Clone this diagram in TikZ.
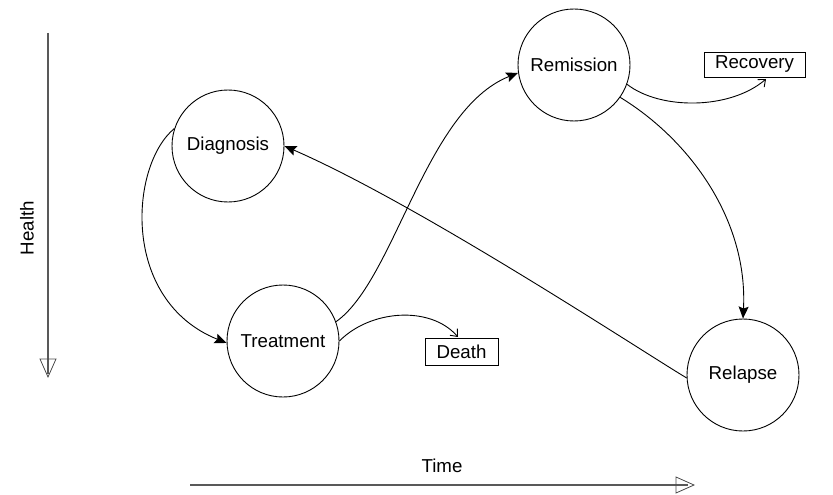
\documentclass[tikz,border=0pt]{standalone}
\usepackage{fontspec}
\setmainfont{Liberation Sans}
\usetikzlibrary{arrows.meta}
\begin{document}
\begin{tikzpicture}[x=1pt,y=-1pt,
  lbl/.style={font=\fontsize{18.7}{22}\selectfont},
  state/.style={circle,draw,line width=0.9pt,minimum size=112pt,inner sep=0pt,lbl},
  outbox/.style={draw,line width=0.9pt,inner sep=0pt,lbl},
  link/.style={line width=0.9pt,-{Stealth[length=12pt,width=10pt,inset=2pt]}},
  soft/.style={line width=0.9pt,-{Straight Barb[length=6pt,width=10pt]}},
  axisline/.style={line width=1.6pt,draw=black!65},
  axishead/.style={line width=0.8pt,draw=black!70}]
\useasboundingbox (0,0) rectangle (833,495);

\node[state] (diag) at (228,146) {Diagnosis};
\node[state] (treat) at (283,341) {Treatment};
\node[state] (remi) at (574,65) {Remission};
\node[state] (rel) at (743,375) {Relapse};
\node[outbox,minimum width=101pt,minimum height=25pt] (rec) at (754.5,64.5) {Recovery};
\node[outbox,minimum width=73pt,minimum height=27pt] (death) at (461.5,351.5) {Death};

\node[lbl,rotate=90] (health) at (27,228) {Health};
\node[lbl] (time) at (442,466) {Time};

% axes
\coordinate (vtop) at (48,33);
\coordinate (vend) at (48,374);
\draw[axisline] (vtop) -- (vend);
\draw[axishead] (40,359) -- (56,359) -- (48,377) -- cycle;
\coordinate (hstart) at (190,485);
\coordinate (hend) at (688,485);
\draw[axisline] (hstart) -- (hend);
\draw[axishead] (676,477) -- (676,493) -- (694,485) -- cycle;

% connectors
\draw[link] (diag.162) .. controls (130,165) and (120,300) .. (treat.182);
\draw[link] (treat.20) .. controls (395,280) and (425,110) .. (remi.188);
\draw[link] (remi.-35) .. controls (690,140) and (748,220) .. (rel.90);
\draw[link] (rel.183) .. controls (640,350) and (420,205) .. (diag.0);
\draw[soft] (remi.-20) .. controls (660,110) and (730,110) .. (766,79);
\draw[soft] (treat.0) .. controls (370,310) and (430,305) .. (458,337);
\end{tikzpicture}
\end{document}
